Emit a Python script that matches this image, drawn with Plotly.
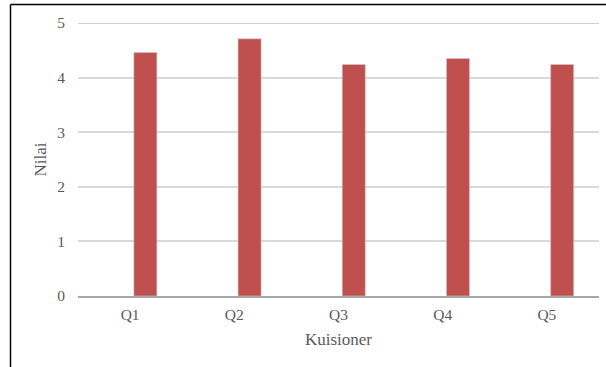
import plotly.graph_objects as go

categories = ["Q1", "Q2", "Q3", "Q4", "Q5"]
values = [4.46, 4.71, 4.24, 4.35, 4.24]
y_ticks = [0, 1, 2, 3, 4, 5]

FONT = "Liberation Serif"
GRAY = "#595959"

fig = go.Figure()
fig.add_trace(go.Bar(
    x=categories, y=values,
    width=0.221, offset=0.036,
    marker=dict(color="#C0504D", line=dict(color="#C9C9C9", width=0.6)),
))

# plot area: x 78..599, y 23..296
L, R, T, B = 78, 7, 23, 71
W, H = 606, 367
pw, ph = W - L - R, H - T - B

fig.update_layout(
    width=W, height=H,
    margin=dict(l=L, r=R, t=T, b=B),
    paper_bgcolor="white", plot_bgcolor="white",
    showlegend=False,
    font=dict(family=FONT, color=GRAY, size=15),
    xaxis=dict(
        type="category", range=[-0.5, 4.5],
        showgrid=False, showline=True, linecolor="#A6A6A6", linewidth=1.5,
        ticks="", ticklabelstandoff=4,
        tickfont=dict(family=FONT, size=15.5, color=GRAY),
        title=dict(text="Kuisioner", font=dict(family=FONT, size=17, color=GRAY), standoff=11),
    ),
    yaxis=dict(
        range=[0, 5], tickvals=y_ticks,
        showgrid=True, gridcolor="#D9D9D9", gridwidth=1.5,
        zeroline=False, showline=False,
        ticks="", ticklabelstandoff=12,
        tickfont=dict(family=FONT, size=15.5, color=GRAY),
        title=dict(text="Nilai", font=dict(family=FONT, size=17, color=GRAY), standoff=6),
    ),
    shapes=[
        dict(type="line", xref="paper", yref="paper",
             x0=(10.5 - L) / pw, x1=(10.5 - L) / pw,
             y0=(H - B - 4.5) / ph, y1=-0.5,
             line=dict(color="black", width=1.5)),
        dict(type="line", xref="paper", yref="paper",
             x0=(10.5 - L) / pw, x1=1.2,
             y0=(H - B - 4.5) / ph, y1=(H - B - 4.5) / ph,
             line=dict(color="black", width=1.5)),
        dict(type="line", xref="paper", yref="y",
             x0=0, x1=1, y0=5, y1=5,
             line=dict(color="#BFBFBF", width=1.5)),
    ],
)

fig.write_html("out.html")
